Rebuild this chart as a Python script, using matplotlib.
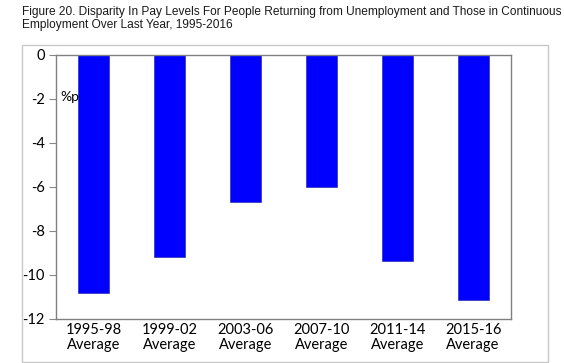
import matplotlib
matplotlib.use("Agg")
import matplotlib.pyplot as plt
from matplotlib.patches import Rectangle

periods = ["1995-98\nAverage", "1999-02\nAverage", "2003-06\nAverage",
           "2007-10\nAverage", "2011-14\nAverage", "2015-16\nAverage"]
disparity = [-10.8, -9.2, -6.7, -6.0, -9.35, -11.15]
y_ticks = [0, -2, -4, -6, -8, -10, -12]

W, H = 564, 363
fig = plt.figure(figsize=(W / 100, H / 100), dpi=100)

# outer light grey frame
fig.patches.append(Rectangle((22 / W, 1 - 362 / H), (548 - 22) / W, (362 - 45) / H,
                             transform=fig.transFigure, fill=False,
                             edgecolor="#c8c8c8", linewidth=1.0))

fig.text(22 / W, 1 - 6 / H,
         "Figure 20. Disparity In Pay Levels For People Returning from Unemployment and Those in Continuous\n"
         "Employment Over Last Year, 1995-2016",
         ha="left", va="top", fontsize=8.6, family="Liberation Sans", color="#1a1a1a",
         linespacing=1.15)

ax = fig.add_axes([56 / W, 1 - 319 / H, (511 - 56) / W, (319 - 55) / H])
ax.bar(range(len(periods)), disparity, width=0.41, color="#0000ff", edgecolor="#1a1aa0", linewidth=0.4)
ax.set_xlim(-0.5, len(periods) - 0.5)
ax.set_ylim(-12, 0)
ax.set_yticks(y_ticks)
ax.set_yticklabels([str(t) for t in y_ticks], family="Lato", fontsize=10.5)
ax.set_xticks(range(len(periods)))
ax.set_xticklabels(periods, family="Lato", fontsize=10.5, linespacing=1.05)
ax.tick_params(axis="x", length=0, pad=3)
ax.tick_params(axis="y", length=5, width=0.8, color="#888888", pad=3)
for s in ax.spines.values():
    s.set_color("#808080")
    s.set_linewidth(1.0)

ax.text(0.01, 0.84, "%p", transform=ax.transAxes, family="Lato", fontsize=10,
        ha="left", va="center")

fig.savefig("out.png", dpi=100)
